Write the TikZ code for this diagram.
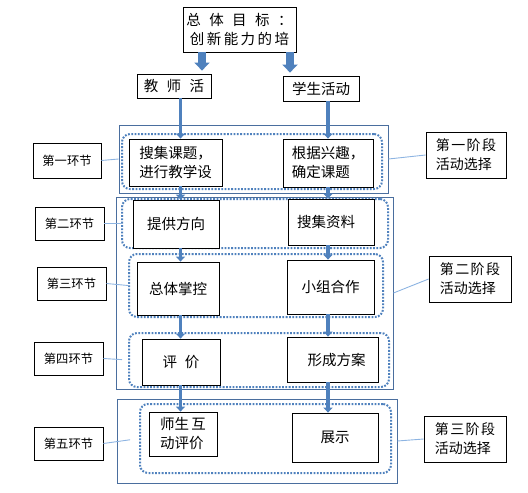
\documentclass[tikz,border=0pt]{standalone}
\usepackage{fontspec}
\setmainfont{Noto Sans CJK SC}
\usetikzlibrary{arrows.meta}

\definecolor{arrblue}{HTML}{4F81BD}
\definecolor{frameblue}{HTML}{4A6E9E}
\definecolor{linkblue}{HTML}{8DB4E2}

\begin{document}
\begin{tikzpicture}[x=1pt,y=-1pt,
 box/.style={draw,fill=white,align=left,inner sep=2pt,line width=0.8pt,
 font=\fontsize{14.5}{19}\selectfont},
 tag/.style={draw,fill=white,inner sep=2pt,line width=0.8pt,
 minimum width=69pt,minimum height=33pt,font=\fontsize{12.3}{16}\selectfont},
 stage/.style={draw,fill=white,align=left,inner sep=2pt,line width=0.8pt,
 minimum width=82pt,minimum height=46pt,font=\fontsize{14}{19}\selectfont},
 frame/.style={draw=frameblue,line width=0.9pt,inner sep=0pt},
 ring/.style={draw=arrblue,line width=2pt,dash pattern=on 1.8pt off 1.5pt,
 rounded corners=8pt,inner sep=0pt},
 link/.style={linkblue,line width=0.9pt},
 arr/.style={arrblue,line width=3.5pt,-{Triangle[length=5pt,width=9pt]}},
 bigarr/.style={arrblue,line width=8pt,-{Triangle[length=8pt,width=15pt]},shorten >=3pt}]
\useasboundingbox (0,0) rectangle (528,493);
\node[frame,minimum width=269pt,minimum height=68pt] (g1) at (253.5,159) {};
\node[frame,minimum width=277pt,minimum height=192pt] (g2) at (254.5,293) {};
\node[frame,minimum width=280pt,minimum height=84pt] (g3) at (257,441) {};
\node[ring,minimum width=260pt,minimum height=55pt] (d1) at (252,161.5) {};
\node[ring,minimum width=266pt,minimum height=49pt] (d2) at (255,223.5) {};
\node[ring,minimum width=254pt,minimum height=63pt] (d3) at (256,285.5) {};
\node[ring,minimum width=260pt,minimum height=54pt] (d4) at (259,360) {};
\node[ring,minimum width=251pt,minimum height=69pt] (d5) at (265.5,438.5) {};
\node[box,align=center,minimum width=113pt,minimum height=45pt] (goal) at (239.5,29.5)
 {{\addfontfeature{LetterSpace=58}总体目标：}\\{\addfontfeature{LetterSpace=17}创新能力的培}};
\node[box,minimum width=74pt,minimum height=24pt] (tch) at (174,86)
 {\addfontfeature{LetterSpace=58}教师活};
\node[box,minimum width=76pt,minimum height=25pt] (stu) at (321,88.5) {学生活动};
\node[box,minimum width=93pt,minimum height=47pt] (t1) at (175.5,162.5) {搜集课题，\\进行教学设};
\node[box,minimum width=90pt,minimum height=48pt] (s1) at (328,163) {根据兴趣，\\确定课题};
\node[box,minimum width=86pt,minimum height=48pt] (t2) at (176,224) {提供方向};
\node[box,minimum width=86pt,minimum height=46pt] (s2) at (331,222) {搜集资料\hspace{10pt}};
\node[box,minimum width=82pt,minimum height=53pt] (t3) at (178,288.5) {总体掌控};
\node[box,minimum width=87pt,minimum height=54pt] (s3) at (330.5,287) {小组合作};
\node[box,minimum width=78pt,minimum height=46pt] (t4) at (181,362)
 {\addfontfeature{LetterSpace=55}评价};
\node[box,minimum width=91pt,minimum height=45pt] (s4) at (332.5,359.5) {\hspace{8pt}形成方案};
\node[box,minimum width=68pt,minimum height=44pt] (t5) at (183,434) {师生\,互\\动评价};
\node[box,minimum width=86pt,minimum height=49pt] (s5) at (335,437.5) {展示};
\node[tag,minimum width=68pt,minimum height=35pt] (h1) at (67,160.5) {第一环节};
\node[tag] (h2) at (69.5,223.5) {第二环节};
\node[tag] (h3) at (71.5,283.5) {第三环节};
\node[tag] (h4) at (68.5,358.5) {第四环节};
\node[tag] (h5) at (68.5,443.5) {第五环节};
\node[stage,minimum width=80pt] (p1) at (466,155)
 {{\addfontfeature{LetterSpace=10}第一阶段}\\活动选择};
\node[stage] (p2) at (470,279) {{\addfontfeature{LetterSpace=10}第二阶段}\\活动选择};
\node[stage] (p3) at (465,439) {{\addfontfeature{LetterSpace=10}第三阶段}\\活动选择};
\coordinate (ca) at (202,0);
\coordinate (cb) at (290,0);
\coordinate (cl) at (180.5,0);
\coordinate (cr) at (328,0);
\draw[bigarr] (goal.south -| ca) -- (tch.north -| ca);
\draw[bigarr] (goal.south -| cb) -- (stu.north -| cb);
\foreach \a/\b in {tch/t1,t1/t2,t2/t3,t3/t4,t4/t5}
 \draw[arr] (\a.south -| cl) -- (\b.north -| cl);
\foreach \a/\b in {stu/s1,s1/s2,s2/s3,s3/s4,s4/s5}
 \draw[arr] (\a.south -| cr) -- (\b.north -| cr);
\draw[link] (h1.east) -- (g1.west);
\draw[link] (h2.east) -- (d2.west);
\draw[link] (h3.east) -- (d3.west);
\draw[link,shorten >=6pt] (h4.east) -- (d4.west);
\draw[link,shorten >=9pt] (h5.east) -- (d5.west);
\draw[link] (g1.east) -- (p1.west);
\draw[link] (g2.east) -- (p2.west);
\draw[link] (g3.east) -- (p3.west);
\end{tikzpicture}
\end{document}
